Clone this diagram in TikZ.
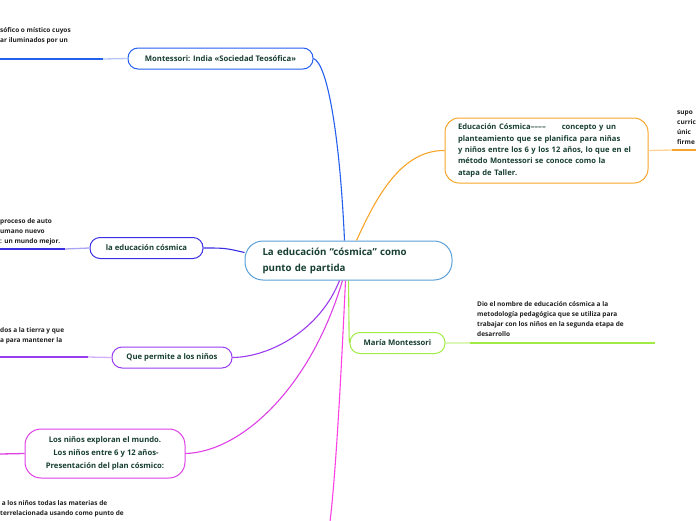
\documentclass[tikz,border=0pt]{standalone}
\usepackage{fontspec}
\setmainfont{Open Sans}
\usetikzlibrary{calc}

\definecolor{inkgreen}{HTML}{173F30}
\definecolor{centreblue}{HTML}{5AA0D8}
\definecolor{montblue}{HTML}{2360EE}
\definecolor{montlight}{HTML}{B4C9F8}
\definecolor{cosmorange}{HTML}{F7A52A}
\definecolor{cosmlight}{HTML}{FBD596}
\definecolor{eduindigo}{HTML}{3A2EE2}
\definecolor{edulight}{HTML}{ABA4F2}
\definecolor{permpurple}{HTML}{9A3CF0}
\definecolor{permlight}{HTML}{D4B0F8}
\definecolor{ninmagenta}{HTML}{DE40E6}
\definecolor{ninlight}{HTML}{F0A8F2}
\definecolor{planpink}{HTML}{FF40E2}
\definecolor{margreen}{HTML}{A0EC44}
\definecolor{marlight}{HTML}{DAF7B8}

\begin{document}
\begin{tikzpicture}[
    x=1pt, y=-1pt,
    centrebox/.style={
        rectangle,
        draw=centreblue,
        line width=1pt,
        rounded corners=18pt,
        fill=white,
        align=left,
        text width=172pt,
        minimum width=207pt,
        minimum height=39pt,
        inner xsep=17.5pt,
        inner ysep=0pt,
        text=inkgreen,
        font=\fontsize{9.7}{16}\selectfont\bfseries
    },
    topicbox/.style={
        rectangle,
        draw=#1,
        line width=1pt,
        rounded corners=10pt,
        fill=white,
        align=center,
        minimum height=21pt,
        inner sep=0pt,
        text=inkgreen,
        font=\fontsize{7.7}{12.8}\selectfont\bfseries
    },
    notetext/.style={
        anchor=north west,
        align=left,
        inner sep=0pt,
        text=black!88,
        font=\fontsize{6.5}{10.2}\selectfont\bfseries
    },
    branch/.style={draw=#1, line width=1.1pt},
    underline/.style={draw=#1, line width=2pt},
    fade/.style={draw=#1, line width=1.3pt}
]
\useasboundingbox (0,0) rectangle (696,520);

% central topic
\node[centrebox] (centre) at (348.5,260.5)
{La educación “cósmica” como\\punto de partida};

% main topics
\node[topicbox=montblue, minimum width=185pt] (mont) at (220.5,58.5)
{Montessori: India «Sociedad Teosófica»};

\node[topicbox=cosmorange, rounded corners=14pt, minimum width=203pt,
      minimum height=65pt, align=left, text width=177pt, inner xsep=13pt,
      font=\fontsize{7.6}{11.3}\selectfont\bfseries] (cosm) at (546.5,150.5)
{Educación Cósmica––––\hspace{16pt}concepto y un\\
planteamiento que se planifica para niñas\\
y niños entre los 6 y los 12 años, lo que en el\\
método Montessori se conoce como la\\
atapa de Taller.};

\node[topicbox=eduindigo, minimum width=113pt] (edu) at (146.5,248)
{la educación cósmica};

\node[topicbox=permpurple, minimum width=120pt] (perm) at (172,357.5)
{Que permite a los niños};

\node[topicbox=ninmagenta, rounded corners=16pt, minimum width=160pt,
      minimum height=49pt] (nin) at (105,453.5)
{Los niños exploran el mundo.\\
\ Los niños entre 6 y 12 años-\\
Presentación del plan cósmico:};

\node[topicbox=margreen, minimum width=95pt] (mar) at (397.5,343)
{María Montessori};

% side notes
\node[notetext] (montnote) at (0,27.5)
{sófico o místico cuyos\\ar iluminados por un};

\node[notetext] (cosmnote) at (677,110.5)
{supo\\curric\\únic\\firme};

\node[notetext] (edunote) at (0,218)
{proceso de auto\\umano nuevo\\: un mundo mejor.};

\node[notetext] (permnote) at (0,327)
{dos a la tierra y que\\a para mantener la};

\node[notetext] (plannote) at (0,500.5)
{\ a los niños todas las materias de\\terrelacionada usando como punto de};

\node[notetext] (marnote) at (477,301)
{Dio el nombre de educación cósmica a la\\
metodología pedagógica que se utiliza para\\
trabajar con los niños en la segunda etapa de\\
desarrollo};

% free ends of the branches
\coordinate (montfade) at (103,59);
\coordinate (montend) at (0,59);
\coordinate (cosmfade) at (672,150);
\coordinate (cosmend) at (696,150);
\coordinate (edufade) at (65,249);
\coordinate (eduend) at (0,249);
\coordinate (permfade) at (88,357);
\coordinate (permend) at (0,357);
\coordinate (ninend) at (0,454);
\coordinate (marfade) at (470,343);
\coordinate (marend) at (655,343);
\coordinate (planend) at (330,522);

% connectors from the central topic
\draw[branch=montblue] ($(centre.north)+(-4,0)$)
    .. controls (340,140) and (328,64) .. (mont.east);
\draw[branch=cosmorange] ($(centre.north)+(8,0)$)
    .. controls (375,200) and (400,150) .. (cosm.west);
\draw[branch=eduindigo] (edu.east) .. controls (225,248) .. ($(centre.west)+(0,-8)$);
\draw[branch=permpurple] ($(centre.south)+(-9,0)$)
    .. controls (320,330) and (270,357) .. (perm.east);
\draw[branch=ninmagenta] ($(centre.south)+(-6,0)$)
    .. controls (310,390) and (240,452) .. (nin.east);
\draw[branch=planpink] ($(centre.south)+(-3,0)$)
    .. controls (340,400) and (335,480) .. (planend);
\draw[branch=margreen] ($(centre.south)+(0,0)$)
    .. controls (349,320) and (349,343) .. (mar.west);

% branch lines under the notes
\draw[fade=montlight] (mont.west) -- (montfade);
\draw[underline=montblue] (montfade) -- (montend);
\draw[fade=cosmlight] (cosm.east) -- (cosmfade);
\draw[underline=cosmorange] (cosmfade) -- (cosmend);
\draw[fade=edulight] (edu.west) -- (edufade);
\draw[underline=eduindigo] (edufade) -- (eduend);
\draw[fade=permlight] (perm.west) -- (permfade);
\draw[underline=permpurple] (permfade) -- (permend);
\draw[fade=ninmagenta] (nin.west) -- (ninend);
\draw[fade=marlight] (mar.east) -- (marfade);
\draw[underline=margreen] (marfade) -- (marend);

\end{tikzpicture}
\end{document}
